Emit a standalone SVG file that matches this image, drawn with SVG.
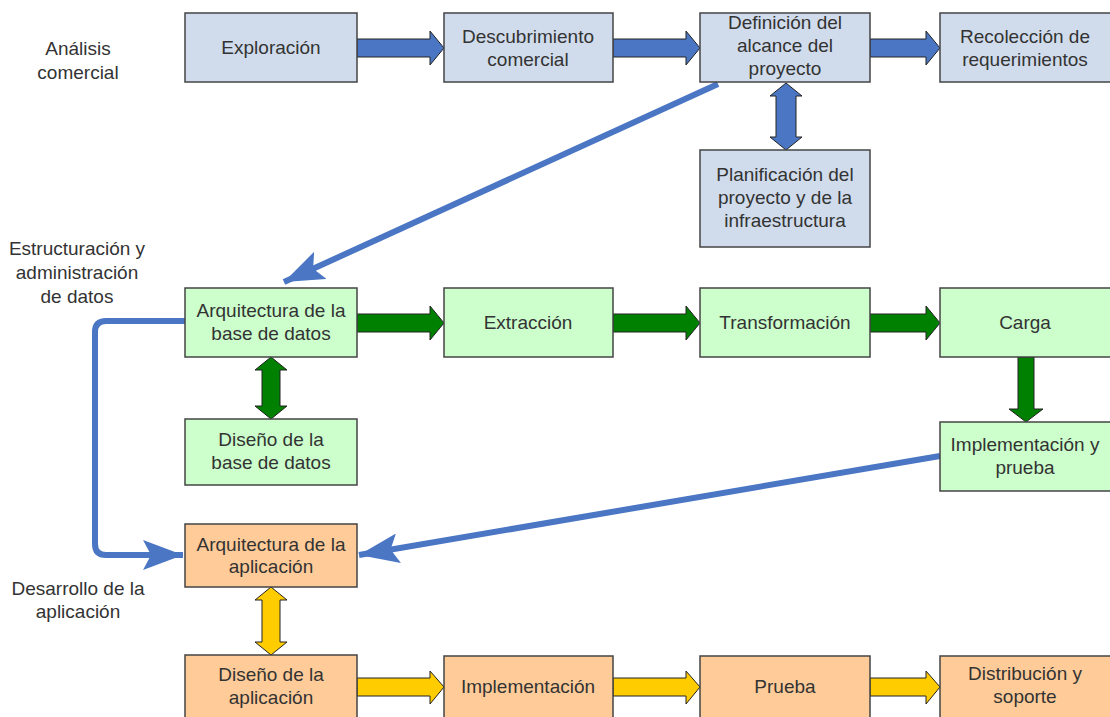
<svg xmlns="http://www.w3.org/2000/svg" width="1110" height="717" viewBox="0 0 1110 717">
<defs>
<style>
.t{font-family:"Liberation Sans",Arial,sans-serif;font-size:19px;fill:#333;text-anchor:middle}
.b{fill:#d0dcec;stroke:#444;stroke-width:1.5}
.g{fill:#ccffcc;stroke:#444;stroke-width:1.5}
.o{fill:#ffcc99;stroke:#444;stroke-width:1.5}
.ab{fill:#4a76c4;stroke:#222;stroke-width:1}
.ag{fill:#008000;stroke:#222;stroke-width:1}
.ay{fill:#ffcc00;stroke:#222;stroke-width:1}
.ln{fill:none;stroke:#4a76c4;stroke-width:6}
</style>
<marker id="m" markerUnits="userSpaceOnUse" markerWidth="44" markerHeight="30" refX="40" refY="15" orient="auto">
<path d="M0,0 L40,15 L0,30 L8,15 Z" fill="#4a76c4"/>
</marker>
</defs>
<g id="labels">
<text class="t" x="78" y="55">Análisis</text>
<text class="t" x="78" y="79">comercial</text>
<text class="t" x="77" y="255">Estructuración y</text>
<text class="t" x="77" y="279">administración</text>
<text class="t" x="77" y="303">de datos</text>
<text class="t" x="78" y="595">Desarrollo de la</text>
<text class="t" x="78" y="618">aplicación</text>
</g>
<g id="connectors">
<path class="ln" d="M718,84 L284,282" marker-end="url(#m)"/>
<path class="ln" d="M185,321 H106 Q95,321 95,332 V544 Q95,555 106,555 H183" marker-end="url(#m)"/>
<path class="ln" d="M940,456 L359,555" marker-end="url(#m)"/>
<path class="ab" d="M357,39 H430 V31 L444,48 L430,65 V57 H357 Z"/>
<path class="ab" d="M613,39 H686 V31 L700,48 L686,65 V57 H613 Z"/>
<path class="ab" d="M870,39 H926 V31 L940,48 L926,65 V57 H870 Z"/>
<path class="ab" d="M776,96 H770 L786,83 L802,96 H796 V137 H802 L786,150 L770,137 H776 Z"/>
<path class="ag" d="M357,314 H430 V306 L444,323 L430,340 V332 H357 Z"/>
<path class="ag" d="M613,314 H686 V306 L700,323 L686,340 V332 H613 Z"/>
<path class="ag" d="M870,314 H926 V306 L940,323 L926,340 V332 H870 Z"/>
<path class="ag" d="M1018,357 H1034 V409 H1043 L1026,422 L1009,409 H1018 Z"/>
<path class="ag" d="M262,370 H255 L271,357 L287,370 H280 V406 H287 L271,419 L255,406 H262 Z"/>
<path class="ay" d="M262,600 H255 L271,587 L287,600 H280 V642 H287 L271,655 L255,642 H262 Z"/>
<path class="ay" d="M357,678 H430 V671 L444,687 L430,704 V696 H357 Z"/>
<path class="ay" d="M613,678 H686 V671 L700,687 L686,704 V696 H613 Z"/>
<path class="ay" d="M870,678 H926 V671 L940,687 L926,704 V696 H870 Z"/>
</g>
<g id="n1"><rect class="b" x="185" y="13" width="172" height="69"/><text class="t" x="271" y="54">Exploración</text></g>
<g id="n2"><rect class="b" x="444" y="13" width="169" height="69"/><text class="t" x="528" y="43">Descubrimiento</text><text class="t" x="528" y="66">comercial</text></g>
<g id="n3"><rect class="b" x="700" y="13" width="170" height="69"/><text class="t" x="785" y="29">Definición del</text><text class="t" x="785" y="52">alcance del</text><text class="t" x="785" y="75">proyecto</text></g>
<g id="n4"><rect class="b" x="940" y="13" width="172" height="69"/><text class="t" x="1025" y="43">Recolección de</text><text class="t" x="1025" y="66">requerimientos</text></g>
<g id="n5"><rect class="b" x="700" y="150" width="170" height="97"/><text class="t" x="785" y="181">Planificación del</text><text class="t" x="785" y="204">proyecto y de la</text><text class="t" x="785" y="227">infraestructura</text></g>
<g id="n6"><rect class="g" x="185" y="288" width="172" height="69"/><text class="t" x="271" y="317">Arquitectura de la</text><text class="t" x="271" y="340">base de datos</text></g>
<g id="n7"><rect class="g" x="444" y="288" width="169" height="69"/><text class="t" x="528" y="329">Extracción</text></g>
<g id="n8"><rect class="g" x="700" y="288" width="170" height="69"/><text class="t" x="785" y="329">Transformación</text></g>
<g id="n9"><rect class="g" x="940" y="288" width="172" height="69"/><text class="t" x="1025" y="329">Carga</text></g>
<g id="n10"><rect class="g" x="185" y="419" width="172" height="66"/><text class="t" x="271" y="446">Diseño de la</text><text class="t" x="271" y="469">base de datos</text></g>
<g id="n11"><rect class="g" x="940" y="422" width="172" height="69"/><text class="t" x="1025" y="451">Implementación y</text><text class="t" x="1025" y="474">prueba</text></g>
<g id="n12"><rect class="o" x="185" y="524" width="172" height="63"/><text class="t" x="271" y="551">Arquitectura de la</text><text class="t" x="271" y="573">aplicación</text></g>
<g id="n13"><rect class="o" x="185" y="655" width="172" height="66"/><text class="t" x="271" y="681">Diseño de la</text><text class="t" x="271" y="704">aplicación</text></g>
<g id="n14"><rect class="o" x="444" y="656" width="169" height="65"/><text class="t" x="528" y="693">Implementación</text></g>
<g id="n15"><rect class="o" x="700" y="656" width="170" height="65"/><text class="t" x="785" y="693">Prueba</text></g>
<g id="n16"><rect class="o" x="940" y="656" width="172" height="65"/><text class="t" x="1025" y="680">Distribución y</text><text class="t" x="1025" y="703">soporte</text></g>
</svg>
